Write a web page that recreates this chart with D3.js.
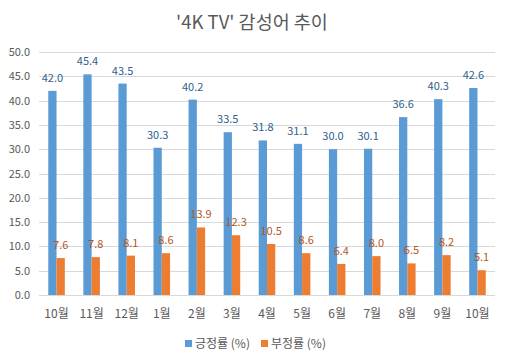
<!DOCTYPE html>
<html><head><meta charset="utf-8">
<script src="https://cdn.jsdelivr.net/npm/d3@7"></script>
<style>body{margin:0;background:#fff}svg{display:block}</style>
</head><body><svg id="c" width="508" height="360"></svg>
<script>
const categories = ["10월","11월","12월","1월","2월","3월","4월","5월","6월","7월","8월","9월","10월"];
const positive = [42.0,45.4,43.5,30.3,40.2,33.5,31.8,31.1,30.0,30.1,36.6,40.3,42.6];
const negative = [7.6,7.8,8.1,8.6,13.9,12.3,10.5,8.6,6.4,8.0,6.5,8.2,5.1];
const seriesNames = ["긍정률 (%)","부정률 (%)"];
const yTicks = [0,5,10,15,20,25,30,35,40,45,50];
const title = "'4K TV' 감성어 추이";

const font = "'Noto Sans CJK KR','Noto Sans',sans-serif";
const colors = ["#5B9BD5","#ED7D31"];
const labelColors = ["#2F5F8F","#B5561E"];
const svg = d3.select("#c");
const m = {l:39, r:13, t:52, b:65};
const W = 508, H = 360;
const x = d3.scaleBand().domain(d3.range(categories.length)).range([m.l, W-m.r]).paddingInner(0).paddingOuter(0);
const y = d3.scaleLinear().domain([0,50]).range([H-m.b, m.t]);
const bw = x.bandwidth()*0.236;

svg.append("text").attr("x",252).attr("y",29).attr("text-anchor","middle")
  .attr("font-family",font).attr("font-size",18.5).attr("fill","#595959").text(title);

const grid = svg.append("g");
grid.selectAll("line").data(yTicks).join("line")
  .attr("x1",m.l).attr("x2",W-m.r).attr("y1",d=>Math.round(y(d))+0.5).attr("y2",d=>Math.round(y(d))+0.5)
  .attr("stroke","#D9D9D9").attr("stroke-width",1);
svg.append("g").selectAll("text").data(yTicks).join("text")
  .attr("x",30).attr("y",d=>y(d)+4).attr("text-anchor","end")
  .attr("font-family",font).attr("font-size",11).attr("fill","#595959").text(d=>d.toFixed(1));

const series = [positive, negative];
series.forEach((vals,si)=>{
  const g = svg.append("g");
  const bx = i => x(i)+x.bandwidth()/2 + (si===0 ? -bw : 0);
  g.selectAll("rect").data(vals).join("rect")
    .attr("x",(d,i)=>bx(i)).attr("width",bw)
    .attr("y",d=>y(d)).attr("height",d=>y(0)-y(d)).attr("fill",colors[si]);
  g.selectAll("text").data(vals).join("text")
    .attr("x",(d,i)=>bx(i)+bw/2).attr("y",d=>y(d)-9).attr("text-anchor","middle")
    .attr("font-family",font).attr("font-size",11).attr("fill",labelColors[si]).text(d=>d.toFixed(1));
});

svg.append("g").selectAll("text").data(categories).join("text")
  .attr("x",(d,i)=>x(i)+x.bandwidth()/2).attr("y",318).attr("text-anchor","middle")
  .attr("font-family",font).attr("font-size",12).attr("fill","#595959").text(d=>d);

const leg = svg.append("g");
const lx = [185, 261];
seriesNames.forEach((n,i)=>{
  leg.append("rect").attr("x",lx[i]).attr("y",340).attr("width",7).attr("height",7).attr("fill",colors[i]);
  leg.append("text").attr("x",lx[i]+10).attr("y",348).attr("font-family",font).attr("font-size",12)
    .attr("fill","#595959").text(n);
});
</script></body></html>
